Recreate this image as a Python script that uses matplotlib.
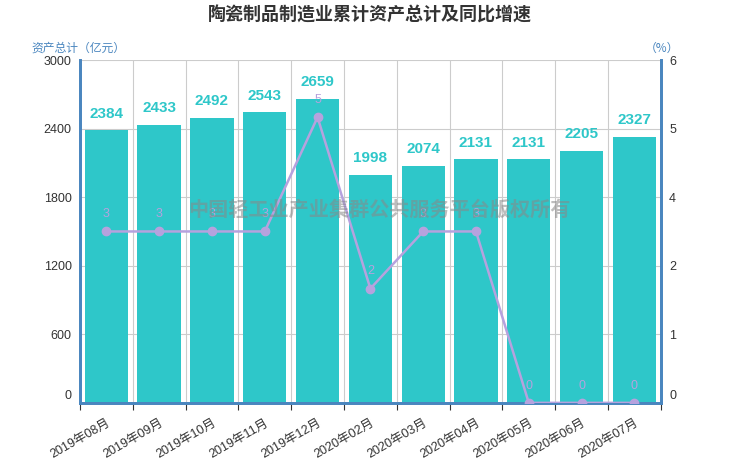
import matplotlib
matplotlib.use('Agg')
import matplotlib.pyplot as plt
import matplotlib.transforms as mtransforms
import numpy as np

plt.rcParams['font.family'] = ['Liberation Sans', 'Noto Sans CJK SC']

months = ['2019年08月', '2019年09月', '2019年10月', '2019年11月', '2019年12月',
          '2020年02月', '2020年03月', '2020年04月', '2020年05月', '2020年06月', '2020年07月']
assets = [2384, 2433, 2492, 2543, 2659, 1998, 2074, 2131, 2131, 2205, 2327]
growth = [3, 3, 3, 3, 5, 2, 3, 3, 0, 0, 0]
left_ticks = [0, 600, 1200, 1800, 2400, 3000]
right_ticks = [0, 1.2, 2.4, 3.6, 4.8, 6]

bar_color = '#2ec7c9'
line_color = '#b6a2de'
axis_color = '#4a86bf'
grid_color = '#cccccc'
cjk = ['Noto Sans CJK SC', 'DejaVu Sans']

fig = plt.figure(figsize=(7.4, 4.62), dpi=100)
ax = fig.add_axes([0.108, 0.128, 0.785, 0.742])
x = np.arange(len(months))

# 柱状图
ax.bar(x, assets, width=0.82, color=bar_color, zorder=2)
for xi, v in zip(x, assets):
    ax.annotate(str(v), (xi, v), xytext=(0, 7), textcoords='offset points',
                ha='center', va='bottom', fontsize=11, fontweight='bold',
                color=bar_color, zorder=5)

ax.set_xlim(-0.5, len(months) - 0.5)
ax.set_ylim(0, 3000)
ax.set_yticks(left_ticks)
ax.set_xticks(x)
ax.set_xticklabels(months, rotation=30, ha='right', rotation_mode='anchor',
                   fontsize=9, color='#333333')
ax.set_xticks(np.arange(-0.5, len(months), 1), minor=True)
ax.tick_params(axis='x', which='major', length=0, pad=10)
ax.tick_params(axis='x', which='minor', length=5, width=0.8, color='#333333')
ax.tick_params(axis='y', length=0, labelsize=9, labelcolor='#333333', pad=6)
ax.grid(True, which='major', axis='y', color=grid_color, lw=0.8)
ax.grid(True, which='minor', axis='x', color=grid_color, lw=0.8)
ax.set_axisbelow(True)

# 折线图（同比增速）
ax2 = ax.twinx()
ax2.plot(x, growth, color=line_color, lw=1.8, marker='o', markersize=6, zorder=3)
for xi, v in zip(x, growth):
    ax2.annotate(str(v), (xi, v), xytext=(0, 8), textcoords='offset points',
                 ha='center', va='bottom', fontsize=9, color=line_color)
ax2.set_ylim(0, 6)
ax2.set_yticks(right_ticks)
ax2.set_yticklabels([str(int(round(t))) for t in right_ticks])
ax2.tick_params(axis='y', length=0, labelsize=9, labelcolor='#333333', pad=6)

for a in (ax, ax2):
    a.spines['top'].set_visible(False)
    for s in ('left', 'right', 'bottom'):
        a.spines[s].set_color(axis_color)
        a.spines[s].set_linewidth(2)

# 0 标签略微上移
fig.canvas.draw()
shift = mtransforms.ScaledTranslation(0, 6 / 72, fig.dpi_scale_trans)
for a in (ax, ax2):
    t = a.yaxis.get_major_ticks()[0]
    t.label1.set_transform(t.label1.get_transform() + shift)
    t.label2.set_transform(t.label2.get_transform() + shift)

fig.text(0.5, 0.968, '陶瓷制品制造业累计资产总计及同比增速', ha='center', va='center',
         fontsize=13, fontweight='bold', color='#333333', family=cjk)
fig.text(0.043, 0.896, '资产总计（亿元）', ha='left', va='center', fontsize=8.5,
         color=axis_color, family=cjk)
fig.text(0.894, 0.896, '（%）', ha='center', va='center', fontsize=8.5,
         color=axis_color, family=cjk)
fig.text(0.513, 0.548, '中国轻工业产业集群公共服务平台版权所有', ha='center', va='center',
         fontsize=14.5, fontweight='bold', color='#888888', alpha=0.55, zorder=10,
         family=cjk)

fig.savefig('out.png', dpi=100)
